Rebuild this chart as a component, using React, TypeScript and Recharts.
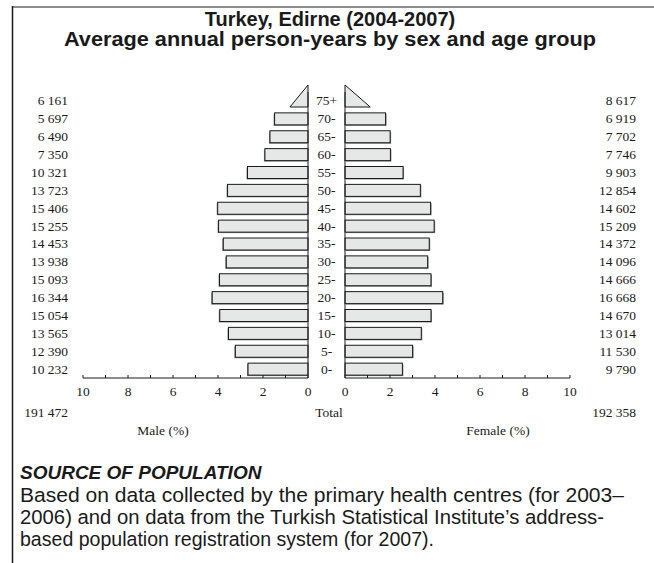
import React from 'react';
import { BarChart, Bar, XAxis, YAxis, ReferenceLine } from 'recharts';

const ageGroups = ['75+', '70-', '65-', '60-', '55-', '50-', '45-', '40-', '35-', '30-', '25-', '20-', '15-', '10-', '5-', '0-'];
const maleCounts = [6161, 5697, 6490, 7350, 10321, 13723, 15406, 15255, 14453, 13938, 15093, 16344, 15054, 13565, 12390, 10232];
const femaleCounts = [8617, 6919, 7702, 7746, 9903, 12854, 14602, 15209, 14372, 14096, 14666, 16668, 14670, 13014, 11530, 9790];
const axisTicks = [0, 1, 2, 3, 4, 5, 6, 7, 8, 9, 10];
const labeledTicks = [0, 2, 4, 6, 8, 10];
const openAgeGroup = '75+';

const titleLines = ['Turkey, Edirne (2004-2007)', 'Average annual person-years by sex and age group'];
const sourceTitle = 'SOURCE OF POPULATION';
const sourceLines = [
  'Based on data collected by the primary health centres (for 2003–',
  '2006) and on data from the Turkish Statistical Institute’s address-',
  'based population registration system (for 2007).',
];
const sourceLineWidths = [604, 584, 414];

const fmt = (n: number) => String(n).replace(/\B(?=(\d{3})+(?!\d))/g, ' ');
const sum = (a: number[]) => a.reduce((s, v) => s + v, 0);
const maleTotal = sum(maleCounts);
const femaleTotal = sum(femaleCounts);
const grandTotal = maleTotal + femaleTotal;

const data = ageGroups.map((age, i) => ({
  age,
  male: (maleCounts[i] / grandTotal) * 100,
  female: (femaleCounts[i] / grandTotal) * 100,
  maleLabel: fmt(maleCounts[i]),
  femaleLabel: fmt(femaleCounts[i]),
}));

const SERIF = '"Liberation Serif", "Times New Roman", serif';
const SANS = '"Liberation Sans", Arial, Helvetica, sans-serif';
const INK = '#1a1a1a';
const FILL = '#e6e7e7';

const makeShape = (side: 'male' | 'female') => (props: any) => {
  const { x, y, width, height, payload } = props;
  if (x == null || width == null) return null;
  const left = Math.min(x, x + width);
  const w = Math.abs(width);
  const inner = side === 'male' ? left + w : left;
  const dir = side === 'male' ? -1 : 1;
  const bottom = y + height;
  if (payload && payload.age === openAgeGroup) {
    const outer = inner + dir * (w / 2);
    const top = bottom - 22;
    return (
      <polygon
        points={`${inner},${top} ${inner},${bottom} ${outer},${bottom}`}
        fill={FILL}
        stroke={INK}
        strokeWidth={1}
      />
    );
  }
  return (
    <g>
      <rect x={left + dir * 1} y={y + 1} width={w} height={height} fill="#8a8a8a" />
      <rect x={left} y={y} width={w} height={height} fill={FILL} stroke={INK} strokeWidth={1} />
    </g>
  );
};

const AxisTick = (props: any) => {
  const { x, y, payload } = props;
  const v = payload.value;
  return (
    <g>
      <line x1={x} x2={x} y1={y} y2={y - 3} stroke={INK} strokeWidth={1} />
      {labeledTicks.includes(v) && (
        <text x={x} y={y + 18} textAnchor="middle" fontFamily={SERIF} fontSize={13.5} fill={INK}>
          {v}
        </text>
      )}
    </g>
  );
};

const AgeTick = (props: any) => {
  const { x, y, payload } = props;
  return (
    <text x={x + 18.5} y={y} dy={4.5} textAnchor="middle" fontFamily={SERIF} fontSize={13.5} fill={INK}>
      {payload.value}
    </text>
  );
};

const CountTickLeft = (props: any) => {
  const { x, y, payload } = props;
  return (
    <text x={x - 15} y={y} dy={4.5} textAnchor="end" fontFamily={SERIF} fontSize={13.5} fill={INK}>
      {payload.value}
    </text>
  );
};

const CountTickRight = (props: any) => {
  const { x, y, payload } = props;
  return (
    <text x={x + 66} y={y} dy={4.5} textAnchor="end" fontFamily={SERIF} fontSize={13.5} fill={INK}>
      {payload.value}
    </text>
  );
};

const CHART_H = 420;
const MARGIN_TOP = 92;

export default function App() {
  return (
    <div style={{ position: 'absolute', left: 0, top: 0, width: 654, height: 563, background: '#fff', overflow: 'hidden' }}>
      <div style={{ position: 'absolute', left: 0, top: 0 }}>
        <BarChart
          width={346}
          height={CHART_H}
          data={data}
          layout="vertical"
          margin={{ top: MARGIN_TOP, right: 0, bottom: 12, left: 0 }}
          barCategoryGap={3}
        >
          <XAxis
            type="number"
            domain={[0, 10]}
            ticks={axisTicks}
            interval={0}
            reversed
            height={30}
            tickLine={false}
            tickSize={0}
            tickMargin={0}
            tick={<AxisTick />}
            axisLine={{ stroke: INK, strokeWidth: 1 }}
          />
          <YAxis
            yAxisId="count"
            type="category"
            dataKey="maleLabel"
            orientation="left"
            width={83}
            axisLine={false}
            tickLine={false}
            tickSize={0}
            tickMargin={0}
            interval={0}
            tick={<CountTickLeft />}
          />
          <YAxis
            yAxisId="age"
            type="category"
            dataKey="age"
            orientation="right"
            width={38}
            axisLine={{ stroke: INK, strokeWidth: 1 }}
            tickLine={false}
            tickSize={0}
            tickMargin={0}
            interval={0}
            tick={<AgeTick />}
          />
          <Bar dataKey="male" yAxisId="age" isAnimationActive={false} shape={makeShape('male')} />
        </BarChart>
      </div>
      <div style={{ position: 'absolute', left: 310, top: 0 }}>
        <BarChart
          width={344}
          height={CHART_H}
          data={data}
          layout="vertical"
          margin={{ top: MARGIN_TOP, right: 0, bottom: 12, left: 35 }}
          barCategoryGap={3}
        >
          <XAxis
            type="number"
            domain={[0, 10]}
            ticks={axisTicks}
            interval={0}
            height={30}
            tickLine={false}
            tickSize={0}
            tickMargin={0}
            tick={<AxisTick />}
            axisLine={{ stroke: INK, strokeWidth: 1 }}
          />
          <YAxis yAxisId="age" type="category" dataKey="age" hide />
          <YAxis
            yAxisId="count"
            type="category"
            dataKey="femaleLabel"
            orientation="right"
            width={84}
            axisLine={false}
            tickLine={false}
            tickSize={0}
            tickMargin={0}
            interval={0}
            tick={<CountTickRight />}
          />
          <ReferenceLine x={0} yAxisId="age" stroke={INK} strokeWidth={1} />
          <Bar dataKey="female" yAxisId="age" isAnimationActive={false} shape={makeShape('female')} />
        </BarChart>
      </div>
      <svg width={654} height={563} style={{ position: 'absolute', left: 0, top: 0, pointerEvents: 'none' }}>
        <line x1={12} x2={654} y1={7} y2={7} stroke="#8c8c8c" strokeWidth={2} />
        <line x1={12.5} x2={12.5} y1={6} y2={563} stroke={INK} strokeWidth={1.5} />
        <text x={330} y={26} textAnchor="middle" fontFamily={SANS} fontWeight="bold" fontSize={20} fill={INK}>
          {titleLines[0]}
        </text>
        <text
          x={330}
          y={46}
          textAnchor="middle"
          fontFamily={SANS}
          fontWeight="bold"
          fontSize={20}
          fill={INK}
          textLength={532}
          lengthAdjust="spacingAndGlyphs"
        >
          {titleLines[1]}
        </text>
        <text x={68} y={417} textAnchor="end" fontFamily={SERIF} fontSize={13.5} fill={INK}>{fmt(maleTotal)}</text>
        <text x={329} y={417} textAnchor="middle" fontFamily={SERIF} fontSize={13.5} fill={INK}>Total</text>
        <text x={636} y={417} textAnchor="end" fontFamily={SERIF} fontSize={13.5} fill={INK}>{fmt(femaleTotal)}</text>
        <text x={163} y={435} textAnchor="middle" fontFamily={SERIF} fontSize={13.5} fill={INK}>Male (%)</text>
        <text x={498} y={435} textAnchor="middle" fontFamily={SERIF} fontSize={13.5} fill={INK}>Female (%)</text>
        <text x={20} y={479} fontFamily={SANS} fontWeight="bold" fontStyle="italic" fontSize={19} fill={INK}>
          {sourceTitle}
        </text>
        {sourceLines.map((line, i) => (
          <text
            key={i}
            x={20}
            y={502 + i * 22}
            fontFamily={SANS}
            fontSize={20.5}
            fill={INK}
            textLength={sourceLineWidths[i]}
            lengthAdjust="spacingAndGlyphs"
          >
            {line}
          </text>
        ))}
      </svg>
    </div>
  );
}
